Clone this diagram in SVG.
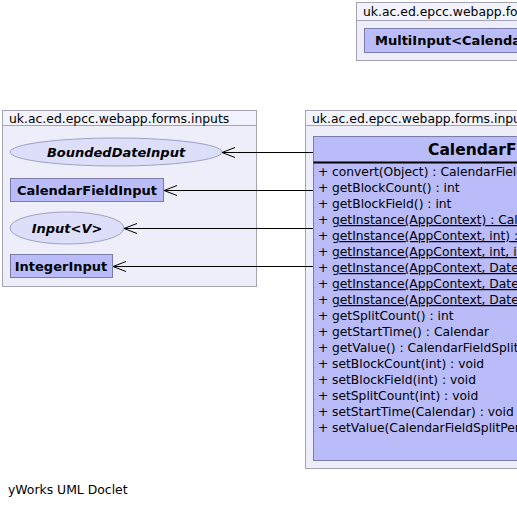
<svg xmlns="http://www.w3.org/2000/svg" width="517" height="507" viewBox="0 0 517 507">
<style>
text{font-family:"DejaVu Sans","Liberation Sans",sans-serif;fill:#000}
.pkg{fill:#eeeefb;stroke:#a3a3b3;stroke-width:1}
.pkgh{fill:#f3f3fd;stroke:#a3a3b3;stroke-width:1}
.pt{font-size:12.4px}
.cls{fill:#b9bcf9;stroke:#7c7ca8;stroke-width:1}
.ell{fill:#dddefa;stroke:#a0a0c0;stroke-width:1}
.lbl{font-size:13px;font-weight:bold}
.it{font-style:italic}
.m{font-size:12.3px}
.u{text-decoration:underline}
.edge{stroke:#000;stroke-width:1;fill:none}
</style>
<defs>
<marker id="open" markerWidth="16" markerHeight="12" refX="14" refY="6" orient="auto" markerUnits="userSpaceOnUse">
<path d="M1,1 L14,6 L1,11" fill="none" stroke="#000" stroke-width="1"/>
</marker>
</defs>
<g id="pkg-top">
<rect class="pkg" x="356.5" y="2.5" width="170" height="58"/>
<rect class="pkgh" x="356.5" y="2.5" width="170" height="18"/>
<text class="pt" x="363" y="16">uk.ac.ed.epcc.webapp.forms.inputs</text>
</g>
<g id="MultiInput">
<rect class="cls" x="364.5" y="28.5" width="170" height="24"/>
<text class="lbl" x="375" y="45">MultiInput&lt;Calendar&gt;</text>
</g>
<g id="pkg-left">
<rect class="pkg" x="2.5" y="110.5" width="254" height="176"/>
<rect class="pkgh" x="2.5" y="110.5" width="254" height="15"/>
<text class="pt" x="9" y="123">uk.ac.ed.epcc.webapp.forms.inputs</text>
</g>
<g id="pkg-right">
<rect class="pkg" x="305.5" y="110.5" width="230" height="358"/>
<rect class="pkgh" x="305.5" y="110.5" width="230" height="15"/>
<text class="pt" x="312" y="123">uk.ac.ed.epcc.webapp.forms.inputs</text>
</g>
<g id="BoundedDateInput">
<ellipse class="ell" cx="116" cy="152" rx="106" ry="14"/>
<text class="lbl it" x="116" y="157" text-anchor="middle">BoundedDateInput</text>
</g>
<g id="CalendarFieldInput">
<rect class="cls" x="10.5" y="178.5" width="153" height="23"/>
<text class="lbl" x="87" y="195" text-anchor="middle">CalendarFieldInput</text>
</g>
<g id="Input">
<ellipse class="ell" cx="67" cy="228" rx="57" ry="16"/>
<text class="lbl it" x="67" y="233" text-anchor="middle">Input&lt;V&gt;</text>
</g>
<g id="IntegerInput">
<rect class="cls" x="10.5" y="254.5" width="102" height="23"/>
<text class="lbl" x="61" y="271" text-anchor="middle">IntegerInput</text>
</g>
<g id="CalendarFieldSplitPeriodInput">
<rect class="cls" x="313.5" y="136.5" width="260" height="324"/>
<line x1="313.5" y1="162.5" x2="573" y2="162.5" stroke="#000" stroke-width="2"/>
<text x="428" y="155" font-size="15.5px" font-weight="bold">CalendarFieldSplitPeriodInput</text>
<g class="m">
<text x="318" y="176">+</text><text x="332" y="176">convert(Object) : CalendarFieldSplitPeriod</text>
<text x="318" y="192">+</text><text x="332" y="192">getBlockCount() : int</text>
<text x="318" y="208">+</text><text x="332" y="208">getBlockField() : int</text>
<text x="318" y="224">+</text><text class="u" x="332" y="224">getInstance(AppContext) : CalendarFieldSplitPeriodInput</text>
<text x="318" y="240">+</text><text class="u" x="332" y="240">getInstance(AppContext, int) : CalendarFieldSplitPeriodInput</text>
<text x="318" y="256">+</text><text class="u" x="332" y="256">getInstance(AppContext, int, int) : CalendarFieldSplitPeriodInput</text>
<text x="318" y="272">+</text><text class="u" x="332" y="272">getInstance(AppContext, Date, int) : CalendarFieldSplitPeriodInput</text>
<text x="318" y="288">+</text><text class="u" x="332" y="288">getInstance(AppContext, Date, int, int) : CalendarFieldSplitPeriodInput</text>
<text x="318" y="304">+</text><text class="u" x="332" y="304">getInstance(AppContext, Date, Date) : CalendarFieldSplitPeriodInput</text>
<text x="318" y="320">+</text><text x="332" y="320">getSplitCount() : int</text>
<text x="318" y="336">+</text><text x="332" y="336">getStartTime() : Calendar</text>
<text x="318" y="352">+</text><text x="332" y="352">getValue() : CalendarFieldSplitPeriod</text>
<text x="318" y="368">+</text><text x="332" y="368">setBlockCount(int) : void</text>
<text x="318" y="384">+</text><text x="332" y="384">setBlockField(int) : void</text>
<text x="318" y="400">+</text><text x="332" y="400">setSplitCount(int) : void</text>
<text x="318" y="416">+</text><text x="332" y="416">setStartTime(Calendar) : void</text>
<text x="318" y="432">+</text><text x="332" y="432">setValue(CalendarFieldSplitPeriod) : CalendarFieldSplitPeriod</text>
</g>
</g>
<g id="connectors">
<line class="edge" x1="313" y1="152.5" x2="222" y2="152.5" marker-end="url(#open)"/>
<line class="edge" x1="313" y1="190.5" x2="164" y2="190.5" marker-end="url(#open)"/>
<line class="edge" x1="313" y1="228.5" x2="124" y2="228.5" marker-end="url(#open)"/>
<line class="edge" x1="313" y1="266.5" x2="113" y2="266.5" marker-end="url(#open)"/>
</g>
<text x="8" y="494" font-size="12.4px">yWorks UML Doclet</text>
</svg>
